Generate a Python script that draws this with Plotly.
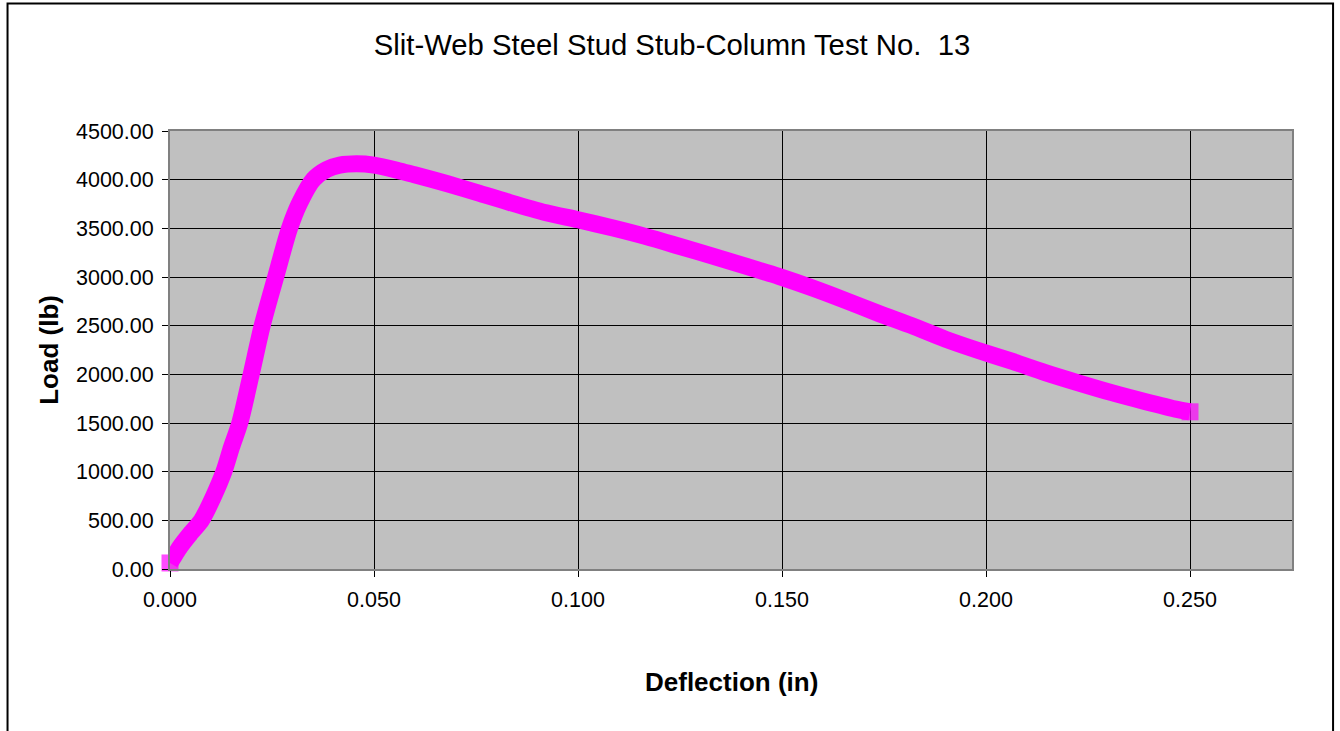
import plotly.graph_objects as go

# deflection (in) and load (lb)
deflection = [
    0.0000, 0.0025, 0.0050, 0.0077, 0.0106, 0.0132, 0.0151, 0.0171,
    0.0199, 0.0226, 0.0259, 0.0293, 0.0318, 0.0351, 0.0384, 0.0416,
    0.0457, 0.0500, 0.0563, 0.0597, 0.0678, 0.0759, 0.0833, 0.0922,
    0.1000, 0.1086, 0.1167, 0.1248, 0.1330, 0.1411, 0.1492, 0.1573,
    0.1655, 0.1737, 0.1818, 0.1900, 0.1981, 0.2063, 0.2145, 0.2226,
    0.2308, 0.2389, 0.2471, 0.2500,
]
load = [
    62, 230, 365, 500, 740, 1000, 1255, 1500,
    2000, 2500, 3000, 3500, 3762, 4000, 4104, 4149,
    4163, 4149, 4090, 4053, 3960, 3860, 3765, 3660,
    3588, 3503, 3415, 3316, 3214, 3111, 3006, 2889,
    2760, 2625, 2500, 2362, 2245, 2135, 2018, 1913,
    1812, 1722, 1638, 1615,
]

title_text = "Slit-Web Steel Stud Stub-Column Test No.  13"
x_title = "Deflection (in)"
y_title = "Load (lb)"

font_family = "Arial, Liberation Sans, sans-serif"
magenta = "#ff00ff"

# full-size squares only at the two ends, small ones hidden inside the thick line
marker_sizes = [12] * len(deflection)
marker_sizes[0] = 17
marker_sizes[-1] = 17

fig = go.Figure(
    go.Scatter(
        x=deflection,
        y=load,
        mode="lines+markers",
        line=dict(color=magenta, width=17, shape="spline", smoothing=0.8),
        marker=dict(color=magenta, symbol="square", size=marker_sizes,
                    line=dict(width=0)),
        cliponaxis=False,
        showlegend=False,
    )
)

fig.update_layout(
    width=1340,
    height=731,
    margin=dict(l=170, r=48, t=131, b=162),
    paper_bgcolor="white",
    plot_bgcolor="#c0c0c0",
    font=dict(family=font_family, color="black", size=21.5),
    title=dict(
        text=title_text,
        x=0.5015, xref="container", xanchor="center",
        y=0.939, yref="container", yanchor="middle",
        font=dict(size=29.3, color="black"),
    ),
    xaxis=dict(
        range=[0, 0.275],
        dtick=0.05,
        tick0=0,
        tickformat=".3f",
        showgrid=True,
        gridcolor="black",
        gridwidth=1,
        zeroline=False,
        showline=True,
        linecolor="#808080",
        linewidth=2,
        mirror=True,
        ticks="outside",
        ticklen=6,
        tickcolor="black",
        ticklabelstandoff=4,
    ),
    yaxis=dict(
        range=[0, 4500],
        dtick=500,
        tickformat=".2f",
        showgrid=True,
        gridcolor="black",
        gridwidth=1,
        zeroline=False,
        showline=True,
        linecolor="#808080",
        linewidth=2,
        mirror=True,
        ticks="outside",
        ticklen=6,
        tickcolor="black",
        ticklabelstandoff=4,
    ),
    annotations=[
        dict(
            text=x_title, x=0.5, y=-0.257, xref="paper", yref="paper",
            xanchor="center", yanchor="middle", showarrow=False,
            font=dict(size=26, weight="bold"),
        ),
        dict(
            text=y_title, x=-0.108, y=0.5, xref="paper", yref="paper",
            xanchor="center", yanchor="middle", showarrow=False,
            textangle=-90, font=dict(size=26, weight="bold"),
        ),
    ],
    shapes=[
        dict(
            type="rect", xref="paper", yref="paper",
            x0=-0.1448, x1=1.0366, y0=-0.6, y1=1.291,
            line=dict(color="black", width=2),
        ),
    ],
)

fig.write_html(
    "out.html",
    config={"displayModeBar": False},
    post_script="document.body.style.margin='0';",
)
